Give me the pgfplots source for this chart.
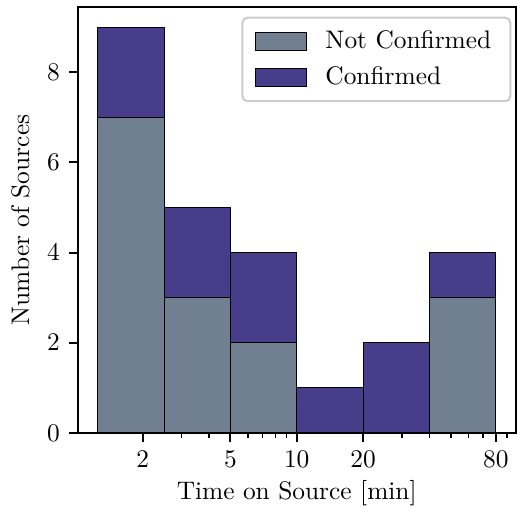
\documentclass[border=0pt]{standalone}
\usepackage{pgfplots}
\pgfplotsset{compat=1.18}
\definecolor{notconf}{HTML}{708090}
\definecolor{conf}{HTML}{483D8B}
\begin{document}
\begin{tikzpicture}
\begin{axis}[
  name=ax,
  scale only axis, width=172.5pt, height=167.8pt,
  xmode=log, xmin=1.015, xmax=98.5, ymin=0, ymax=9.45,
  axis on top,
  axis line style={line width=0.8pt},
  tick pos=left, tick align=outside,
  major tick length=3.5pt, minor tick length=2pt,
  every tick/.style={black, line width=0.8pt},
  minor tick style={line width=0.6pt},
  xtick={2,5,10,20,80}, xticklabels={2,5,10,20,80},
  minor xtick={3,4,6,7,8,9,30,40,50,60,70,90},
  ytick={0,2,4,6,8},
  xlabel={Time on Source [min]},
  ylabel={Number of Sources},
  xlabel style={yshift=2pt},
  legend cell align=left,
  legend image code/.code={\draw[#1, sharp corners, draw=black, line width=0.4pt] (0pt,-3.5pt) rectangle (20pt,3.5pt);\path[draw=none,fill=none] (0pt,0pt) -- (25pt,0pt);},
  legend style={at={(rel axis cs:0.99,0.977)}, anchor=north east,
    draw=black!20, line width=0.8pt, rounded corners=2pt, fill=white,
    inner xsep=5pt, inner ysep=2.5pt, row sep=0.8pt,
    nodes={inner sep=2.5pt}},
]
\addlegendimage{fill=notconf}
\addlegendentry{Not Confirmed}
\addlegendimage{fill=conf}
\addlegendentry{Confirmed}
\addplot[forget plot, ybar interval, fill=conf, draw=black, line width=0.4pt]
  coordinates {(1.25,9) (2.5,5) (5,4) (10,1) (20,2) (40,4) (80,4)};
\addplot[forget plot, ybar interval, fill=notconf, draw=black, line width=0.4pt]
  coordinates {(1.25,7) (2.5,3) (5,2) (10,0) (20,0) (40,3) (80,3)};
\end{axis}
\path[use as bounding box] ([xshift=-30.6pt,yshift=-32.1pt]ax.south west) rectangle ([yshift=2.7pt]ax.north east);
\end{tikzpicture}
\end{document}
